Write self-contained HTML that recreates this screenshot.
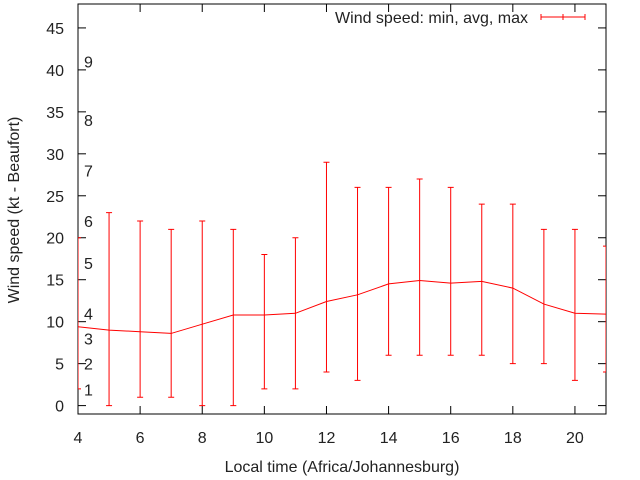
<!DOCTYPE html>
<html><head><meta charset="utf-8"><style>body{margin:0;background:#fff}svg{display:block}text{font-family:"Liberation Sans",sans-serif;font-size:16px;fill:#222}</style></head>
<body>
<svg id="c" width="640" height="480" xmlns="http://www.w3.org/2000/svg"></svg>
<script>
const hours=[4,5,6,7,8,9,10,11,12,13,14,15,16,17,18,19,20,21];
const minVals=[2,0,1,1,0,0,2,2,4,3,6,6,6,6,5,5,3,4];
const avgVals=[9.4,9.0,8.8,8.6,9.7,10.8,10.8,11.0,12.4,13.2,14.5,14.9,14.6,14.8,14.0,12.1,11.0,10.9];
const maxVals=[20,23,22,21,22,21,18,20,29,26,26,27,26,24,24,21,21,19];
const yTicks=[0,5,10,15,20,25,30,35,40,45];
const xTicks=[4,6,8,10,12,14,16,18,20];
const beaufortLabels=["1","2","3","4","5","6","7","8","9"];
const beaufortVals=[1.9,5,8,11.0,17,22,28,34,41];
const L=78,R=606,T=4,B=414,X0=4,X1=21,Y0=-1,Y1=47.85;
const sx=v=>L+(v-X0)/(X1-X0)*(R-L);
const sy=v=>B-(v-Y0)/(Y1-Y0)*(B-T);
const svg=document.getElementById('c');const NS='http://www.w3.org/2000/svg';
function mk(t,a,p){const e=document.createElementNS(NS,t);for(const k in a)e.setAttribute(k,a[k]);(p||svg).appendChild(e);return e;}
const clip=mk('clipPath',{id:'pc'});mk('rect',{x:L,y:T,width:R-L,height:B-T},clip);
let e=mk('rect',{x:L,y:T,width:R-L,height:B-T,fill:'none',stroke:'#000','stroke-width':1});

yTicks.forEach(v=>{const y=sy(v);
 mk('line',{x1:L,y1:y,x2:L+8,y2:y,stroke:'#000'});mk('line',{x1:R,y1:y,x2:R-8,y2:y,stroke:'#000'});
 const t=mk('text',{x:L-14,y:y+6,'text-anchor':'end'});t.textContent=v;
 });
xTicks.forEach(v=>{const x=sx(v);
 mk('line',{x1:x,y1:B,x2:x,y2:B-8,stroke:'#000'});mk('line',{x1:x,y1:T,x2:x,y2:T+8,stroke:'#000'});
 const t=mk('text',{x:x,y:B+29,'text-anchor':'middle'});t.textContent=v;
 });
beaufortLabels.forEach((s,i)=>{const y=sy(beaufortVals[i]);
 const t=mk('text',{x:84,y:y+6});t.textContent=s;
 });
const g=mk('g',{'clip-path':'url(#pc)',stroke:'#f00','stroke-width':1,fill:'none'});

hours.forEach((h,i)=>{const x=sx(h);
 const b=mk('path',{d:`M${x},${sy(minVals[i])}V${sy(maxVals[i])}M${x-3},${sy(minVals[i])}h6M${x-3},${sy(maxVals[i])}h6`},g);
 });
const ln=mk('polyline',{points:hours.map((h,i)=>sx(h)+','+sy(avgVals[i])).join(' ')},g);

let t=mk('text',{x:528,y:23,'text-anchor':'end'});t.textContent='Wind speed: min, avg, max';

const lg=mk('path',{d:'M541,17H585M541,14v6M563,14v6M585,14v6',stroke:'#f00',fill:'none'});

t=mk('text',{x:342,y:472,'text-anchor':'middle'});t.textContent='Local time (Africa/Johannesburg)';

t=mk('text',{x:19,y:210,'text-anchor':'middle',transform:'rotate(-90 19 210)'});t.textContent='Wind speed (kt - Beaufort)';

</script>
</body></html>
